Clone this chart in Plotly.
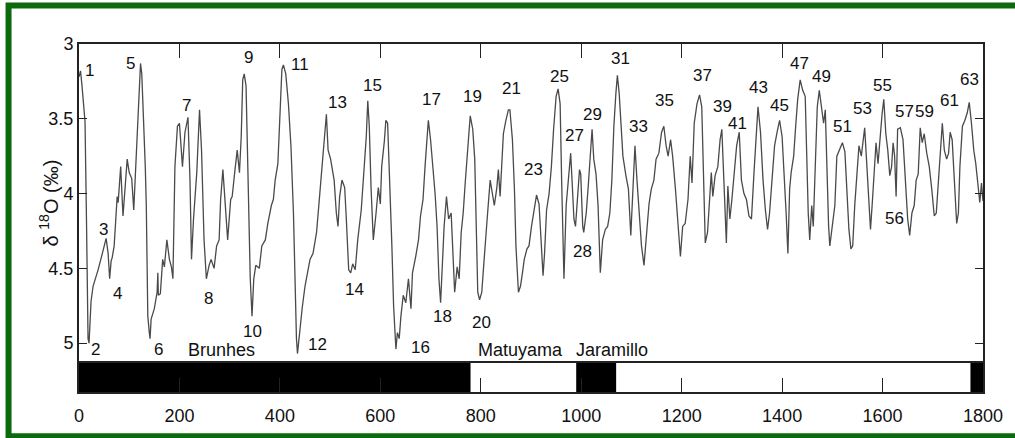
import plotly.graph_objects as go

# Benthic d18O stack, 0-1800 ka
age_ka = [
    0, 3, 6, 9, 12, 15, 18, 20, 24, 28, 32, 38, 45, 51, 54, 58, 61, 64, 66, 70,
    72.5, 76, 78, 83, 87.6, 92, 96, 100, 105, 109, 114, 118.6, 122.5, 125, 128,
    132, 134, 135.7, 137, 140, 141.5, 143.6, 150, 155.5, 157, 158, 162, 166.6,
    170, 175, 180, 184, 187, 191, 196, 200, 206, 211, 217, 221, 224, 228, 234.5,
    240, 244, 249, 253.6, 259, 263, 269, 274, 279, 282, 286.5, 292, 296, 302,
    305, 310, 315, 319.5, 323, 326, 329, 332.6, 336.6, 341, 344.5, 348, 352,
    359, 364, 371, 376, 383, 387, 390.6, 396, 400.5, 404, 407, 411.7, 417, 422,
    427, 430, 433, 435, 440, 444.6, 450, 455, 460, 466, 473, 477.5, 484, 489.5,
    492.6, 496, 501, 508, 512.4, 515.7, 519, 523.6, 529, 532, 537, 541, 545,
    550, 555, 562, 567, 572, 575, 578, 581.6, 586, 591.5, 596, 600, 602.7, 608,
    611, 614.5, 619, 623, 626.4, 631, 634, 637.6, 641, 645.6, 650.7, 656, 661,
    664, 670.5, 676, 680, 685, 689, 693, 695.6, 700, 705, 709, 713, 716.7, 720,
    723, 727, 731.7, 736, 741, 745, 748, 753, 757, 761, 765, 769, 774.6, 779,
    784, 788, 791, 794, 797.6, 802, 805.6, 809, 813.6, 818.7, 823, 827, 832,
    835, 838.5, 842, 845, 850, 855, 858, 863, 867, 870, 875, 879, 883, 886.6,
    892, 896, 901, 906, 911, 916, 920, 924, 927, 931, 936, 940.6, 945, 950, 954,
    958, 961, 963.6, 965.6, 970, 975, 979, 982, 985.5, 988.6, 992.6, 996.6, 999,
    1003, 1005, 1010, 1014, 1017.6, 1021.6, 1025, 1029.5, 1033.5, 1036, 1038,
    1042.6, 1048, 1052.6, 1057, 1061, 1065, 1069, 1072, 1075.6, 1079.5, 1083,
    1089, 1094, 1098.7, 1103, 1107, 1111, 1116.4, 1120, 1125, 1130, 1135,
    1139.5, 1144.7, 1149, 1154.6, 1160, 1164.5, 1169, 1173, 1178, 1182, 1187.6,
    1193, 1197.5, 1202, 1207, 1212.6, 1217, 1220.6, 1225, 1230.5, 1235.6, 1240,
    1243.6, 1247, 1251.5, 1255.5, 1259, 1262, 1266.6, 1272, 1276.5, 1280, 1283,
    1286, 1289, 1292, 1296, 1300, 1304, 1309.5, 1314.6, 1319, 1324, 1329, 1334,
    1339, 1344, 1349, 1352, 1357, 1362, 1366.7, 1371, 1375, 1380.6, 1385, 1390,
    1395, 1400, 1404, 1408, 1411.5, 1415, 1418, 1423, 1427, 1431, 1436, 1441,
    1446, 1449, 1452, 1455, 1459, 1462, 1466, 1470, 1474, 1478.6, 1482.6, 1486,
    1489, 1492.6, 1495, 1500, 1505, 1509, 1513.6, 1520, 1525, 1529, 1533, 1537,
    1540.6, 1544.6, 1548.6, 1553, 1557.7, 1561.7, 1564.4, 1568, 1572, 1576,
    1580, 1584, 1587, 1591, 1594.7, 1599, 1602.5, 1606.5, 1610.4, 1614.4, 1618,
    1621, 1624, 1627, 1630, 1635.5, 1640.7, 1645.5, 1650, 1654, 1658.5, 1663,
    1667, 1671, 1675, 1679, 1683, 1688, 1693, 1698, 1703, 1707, 1711, 1714.6,
    1719, 1723, 1727.6, 1731.5, 1734.6, 1738.6, 1743, 1747.6, 1751, 1754, 1759,
    1764, 1768.6, 1772.6, 1777, 1781.6, 1785.6, 1790, 1793.6, 1797, 1800,
]

d18o = [
    3.22, 3.18, 3.28, 3.42, 3.52, 4.20, 4.97, 5.00, 4.72, 4.62, 4.58, 4.51,
    4.42, 4.33, 4.30, 4.40, 4.57, 4.45, 4.43, 4.35, 4.22, 4.02, 4.06, 3.82,
    4.15, 3.97, 3.77, 3.86, 3.90, 4.11, 3.73, 3.37, 3.13, 3.20, 3.42, 3.82,
    4.08, 4.75, 4.82, 4.93, 4.97, 4.84, 4.77, 4.66, 4.53, 4.68, 4.67, 4.44,
    4.49, 4.31, 4.44, 4.49, 4.57, 3.82, 3.55, 3.53, 3.82, 3.59, 3.49, 3.91,
    4.44, 4.17, 3.86, 3.44, 3.71, 4.31, 4.57, 4.48, 4.44, 4.50, 4.35, 4.31,
    4.04, 3.84, 4.08, 4.31, 4.04,
    4.02, 3.86, 3.71, 3.86, 3.62, 3.24, 3.20, 3.28, 3.91, 4.57, 4.82, 4.57,
    4.48, 4.50, 4.35, 4.31, 4.20, 4.08, 4.04, 3.91, 3.80, 3.42, 3.17, 3.14,
    3.20, 3.40, 3.68, 4.13, 4.57, 4.97, 5.07, 4.88, 4.76, 4.62, 4.53, 4.44,
    4.40, 4.26, 4.08, 3.82, 3.64, 3.47, 3.71, 3.77, 3.91, 4.13, 4.22, 4.02,
    3.91, 3.96, 4.15, 4.51, 4.53, 4.47, 4.51, 4.31, 4.11, 3.86, 3.62, 3.38,
    3.55, 3.97, 4.31, 4.13, 3.96, 4.07, 3.82, 3.65, 3.51, 3.53,
    3.91, 4.35, 4.75, 5.04, 4.93, 4.97, 4.82, 4.68, 4.73, 4.57, 4.77, 4.53,
    4.42, 4.31, 4.15, 4.04, 3.82, 3.64, 3.51, 3.64, 3.84, 4.00, 4.22, 4.57,
    4.73, 4.53, 4.22, 4.02, 4.17, 4.13, 4.40, 4.66, 4.49, 4.57, 4.26, 4.13,
    3.93, 3.68, 3.48, 3.57, 3.77, 4.22, 4.66, 4.71, 4.66, 4.49, 4.31, 4.13,
    3.91, 4.00, 4.08, 3.96, 3.84, 4.02, 3.77, 3.60, 3.51, 3.44, 3.44, 3.64,
    3.97, 4.35, 4.66, 4.62, 4.53, 4.44, 4.37, 4.35, 4.22, 4.11, 4.01, 4.07,
    4.31, 4.55, 4.40, 4.11, 4.00, 3.82, 3.57, 3.35, 3.30, 3.40, 3.91, 4.35,
    4.57, 4.08, 3.91, 3.73, 3.93, 4.17, 4.22, 4.04, 3.84, 3.87, 4.22, 4.26,
    4.13, 3.95, 3.75, 3.57, 3.77, 3.87, 4.08, 4.35, 4.53, 4.31, 4.24, 4.22,
    4.13, 3.91, 3.55, 3.33, 3.21, 3.33, 3.59, 3.75, 3.88, 3.97, 4.28, 3.91,
    3.68, 3.91, 4.15, 4.35, 4.48, 4.24, 4.07, 3.97, 3.91, 3.77, 3.73, 3.59,
    3.55, 3.68, 3.75, 3.64, 3.75, 3.97, 4.22, 4.42, 4.22, 4.20, 4.04, 3.75,
    3.93, 3.53, 3.40, 3.34, 3.42, 3.86, 4.33, 4.26, 4.04, 3.86, 4.02, 3.88,
    3.82, 3.64, 3.57, 3.82, 4.13, 4.33, 3.95, 4.17, 4.04, 3.86, 3.68, 3.59,
    3.91, 4.00, 4.04, 4.15, 4.17, 3.86, 3.55, 3.42, 3.59, 3.91, 4.11, 4.24,
    4.13, 3.91, 3.68, 3.59, 3.51, 3.62, 3.86, 4.13, 4.40, 3.97, 3.86, 3.75,
    3.55, 3.37, 3.24, 3.31, 3.35, 3.75, 4.13, 4.31, 4.08, 4.22, 3.75, 3.42,
    3.31, 3.42, 3.53, 3.44, 3.86, 4.22, 4.35, 4.22, 4.08, 3.75, 3.71, 3.66,
    3.72, 3.96, 4.24, 4.37, 4.35, 4.08, 3.91, 3.68, 3.75, 3.62, 3.56, 3.77,
    4.04, 4.24, 4.04, 3.82, 3.66, 3.80, 3.62, 3.47, 3.37, 3.60, 3.71, 3.88,
    3.82, 3.66, 3.75, 4.02, 3.57, 3.56, 3.64, 3.91, 4.17, 4.28, 4.13, 4.08,
    3.91, 3.87, 3.56, 3.66, 3.60, 3.73, 3.82, 3.97, 4.15, 4.13, 3.93, 3.71,
    3.53, 3.71, 3.77, 3.73, 3.59, 3.64, 3.91, 4.20, 4.13, 3.82, 3.55, 3.51,
    3.46, 3.39, 3.53, 3.71, 3.80, 3.95, 4.06, 3.93, 4.05,
]

# Marine isotope stage numbers
stage_labels = [
    "1", "2", "3", "4", "5", "6", "7", "8", "9", "10", "11", "12", "13", "14",
    "15", "16", "17", "18", "19", "20", "21", "23", "25", "27", "28", "29",
    "31", "33", "35", "37", "39", "41", "43", "45", "47", "49", "51", "53",
    "55", "56", "57", "59", "61", "63",
]

# Geomagnetic polarity chrons (ka boundaries, 1 = normal, 0 = reversed)
chron_start = [0, 780, 990, 1070, 1775]
chron_end = [780, 990, 1070, 1775, 1800]
chron_normal = [1, 0, 1, 0, 1]

chron_names = ["Brunhes", "Matuyama", "Jaramillo"]

# Where each stage number is written (age, d18O)
stage_text_at = {
    "1": (20, 3.18), "2": (33, 5.04), "3": (48, 4.24), "4": (76, 4.67),
    "5": (103, 3.13), "6": (159, 5.04), "7": (215, 3.41), "8": (257, 4.70),
    "9": (338, 3.09), "10": (345, 4.92), "11": (441, 3.14), "12": (475, 5.01),
    "13": (514, 3.39), "14": (549, 4.64), "15": (585, 3.28), "16": (679, 5.03),
    "17": (701, 3.37), "18": (724, 4.82), "19": (784, 3.35), "20": (801, 4.86),
    "21": (862, 3.30), "23": (905, 3.84), "25": (956, 3.22), "27": (987, 3.61),
    "28": (1002, 4.39), "29": (1023, 3.47), "31": (1079, 3.10),
    "33": (1114, 3.55), "35": (1166, 3.38), "37": (1241, 3.21),
    "39": (1281, 3.42), "41": (1311, 3.53), "43": (1352, 3.29),
    "45": (1394, 3.41), "47": (1435, 3.13), "49": (1479, 3.22),
    "51": (1520, 3.55), "53": (1561, 3.43), "55": (1599, 3.28),
    "56": (1624, 4.17), "57": (1643, 3.45), "59": (1684, 3.45),
    "61": (1733, 3.38), "63": (1774, 3.24),
}
chron_text_at = {
    "Brunhes": (284, 5.045), "Matuyama": (880, 5.045), "Jaramillo": (1061, 5.045),
}

W, H = 1015, 438
L, R, T, B = 79, 990, 44, 393          # plot area in pixels
Y_TOP, Y_BOT = 3.0, 5.327              # d18O at top / bottom of the frame
BAR_TOP = 5.127                        # top edge of the polarity strip

FONT = "Liberation Sans, Arial, sans-serif"
GREEN = "#0b6a0b"


def px_x(px):
    return (px - L) / (R - L)


def px_y(py):
    return (B - py) / (B - T)


fig = go.Figure()
fig.add_trace(go.Scatter(
    x=age_ka, y=d18o, mode="lines",
    line=dict(color="#4a4a4a", width=1.3),
    hoverinfo="skip", showlegend=False,
))

shapes = []
for s, e, n in zip(chron_start, chron_end, chron_normal):
    shapes.append(dict(
        type="rect", xref="x", yref="y", x0=s, x1=e, y0=BAR_TOP, y1=Y_BOT,
        fillcolor="black" if n else "white", line=dict(width=0), layer="below",
    ))
shapes.append(dict(
    type="line", xref="x", yref="y", x0=0, x1=1800, y0=BAR_TOP, y1=BAR_TOP,
    line=dict(color="#222", width=2),
))
# outer green frame
shapes.append(dict(
    type="rect", xref="paper", yref="paper",
    x0=px_x(8), x1=px_x(1030), y0=px_y(5.5), y1=px_y(437.5),
    line=dict(color=GREEN, width=6), fillcolor="rgba(0,0,0,0)", layer="above",
))

annotations = []
for lab in stage_labels:
    ax, ay = stage_text_at[lab]
    annotations.append(dict(
        x=ax, y=ay, xref="x", yref="y", text=lab, showarrow=False,
        font=dict(family=FONT, size=17, color="#111"),
    ))
for name in chron_names:
    ax, ay = chron_text_at[name]
    annotations.append(dict(
        x=ax, y=ay, xref="x", yref="y", text=name, showarrow=False,
        font=dict(family=FONT, size=18, color="#111"),
    ))
annotations.append(dict(
    x=px_x(34), y=px_y(203), xref="paper", yref="paper",
    text="δ <sup>18</sup>O (‰)", textangle=-90, showarrow=False,
    font=dict(family=FONT, size=20, color="#111"),
))

fig.update_layout(
    width=W, height=H,
    margin=dict(l=L, r=W - R, t=T, b=H - B, pad=0),
    paper_bgcolor="white", plot_bgcolor="white",
    showlegend=False,
    shapes=shapes, annotations=annotations,
    font=dict(family=FONT, size=18, color="#111"),
)
fig.update_xaxes(
    range=[0, 1800], tickvals=[0, 200, 400, 600, 800, 1000, 1200, 1400, 1600, 1800],
    ticks="inside", ticklen=14, tickwidth=1.2, tickcolor="#222",
    showline=True, linecolor="#222", linewidth=2, mirror="ticks",
    showgrid=False, zeroline=False, ticklabelstandoff=6,
    tickfont=dict(family=FONT, size=18, color="#111"),
)
fig.update_yaxes(
    range=[Y_BOT, Y_TOP], tickvals=[3, 3.5, 4, 4.5, 5],
    ticktext=["3", "3.5", "4", "4.5", "5"],
    ticks="inside", ticklen=8, tickwidth=1.2, tickcolor="#222",
    showline=True, linecolor="#222", linewidth=2, mirror="ticks",
    showgrid=False, zeroline=False,
    tickfont=dict(family=FONT, size=18, color="#111"),
)

fig.write_html("out.html")
